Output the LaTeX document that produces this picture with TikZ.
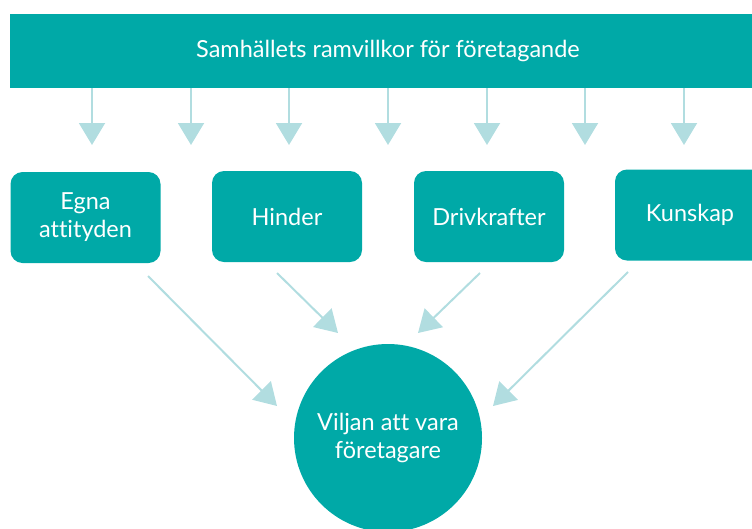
\documentclass[tikz,border=0pt]{standalone}
\usepackage{fontspec}
\setmainfont[Ligatures=NoCommon]{Lato}
\usetikzlibrary{arrows.meta,positioning}
\definecolor{tealbg}{HTML}{00A9A7}
\definecolor{tealarrow}{HTML}{B1DDE0}

\begin{document}
\begin{tikzpicture}[x=1pt, y=-1pt,
    txt/.style={text=white, align=center, font=\fontsize{23.5}{28}\selectfont},
    box/.style={txt, fill=tealbg, rounded corners=12pt, minimum width=150pt, minimum height=91pt},
    pil/.style={tealarrow, line width=2pt, -{Triangle[width=26pt,length=22pt]}}]
    \useasboundingbox (0,0) rectangle (752,528);
    \clip (0,0) rectangle (752,528);

    % Banner
    \node[txt, fill=tealbg, minimum width=756pt, minimum height=74pt] (ram) at (388,51) {Samhällets ramvillkor för företagande};

    % Arrows from the banner
    \foreach \x in {92,191,289,388,487,585,684}
        \draw[pil] (\x,0 |- ram.south) -- (\x,145);

    % Factors
    \node[box] (attityd) at (85.5,217.5) {Egna\\attityden};
    \node[box] (hinder) at (287,216.5) {Hinder};
    \node[box] (driv) at (489,216.5) {Drivkrafter};
    \node[box] (kunskap) at (690,215) {Kunskap};

    % Will
    \node[txt, circle, fill=tealbg, minimum size=188pt] (vilja) at (388,438) {Viljan att vara\\företagare};

    % Arrows to the circle
    \coordinate (a1) at (148,276);
    \coordinate (a2) at (277,273);
    \coordinate (a3) at (480,273);
    \coordinate (a4) at (628,272);
    \coordinate (b1) at (277,406);
    \coordinate (b2) at (338,333);
    \coordinate (b3) at (418,333);
    \coordinate (b4) at (493,406);
    \draw[pil] (a1) -- (b1);
    \draw[pil] (a2) -- (b2);
    \draw[pil] (a3) -- (b3);
    \draw[pil] (a4) -- (b4);
\end{tikzpicture}
\end{document}
